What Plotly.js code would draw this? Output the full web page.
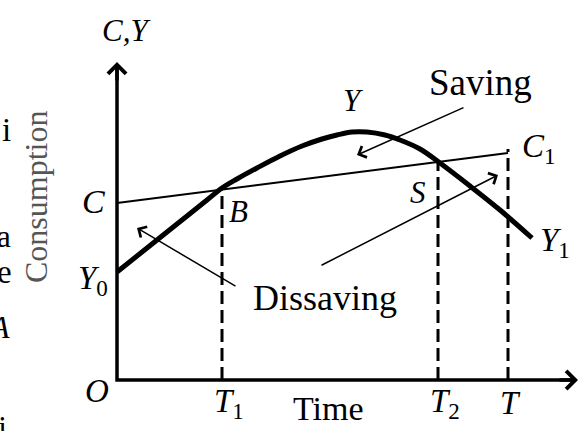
<!DOCTYPE html>
<html>
<head>
<meta charset="utf-8">
<script src="https://cdn.plot.ly/plotly-3.0.1.min.js"></script>
<style>html,body{margin:0;padding:0;background:#fff;}#chart{width:584px;height:431px;}</style>
</head>
<body>
<div id="chart"></div>
<script>
// Income curve Y over the life cycle
const timeY   = [0, 3.0, 6.0, 9.0, 10.5, 12.0, 14.0, 16.3, 18.5, 20.5, 22.0, 23.5, 25.0, 26.8, 28.3, 30.3, 32.3, 35.3, 38.3, 41.5];
const incomeY = [10.8, 13.2, 15.6, 18.0, 19.2, 20.1, 21.2, 22.4, 23.4, 24.1, 24.5, 24.8, 24.8, 24.5, 24.0, 23.1, 21.7, 19.4, 17.0, 14.2];
// Consumption line C -> C1
const timeC = [0, 39.1];
const consC = [17.7, 22.7];
// Periods T1, T2, T and heights of their dashed guides
const periodT   = [10.5, 32.1, 39.1];
const periodTop = [19.1, 21.8, 23.1];
const periodLabels = ['<i>T</i><sub>1</sub>', '<i>T</i><sub>2</sub>', '<i>T</i>'];
// Axes extents
const axisTipX = 46.1, axisTipY = 31.8;

const serif = 'Liberation Serif';
const traces = [];

// axes
traces.push({x: [0, 0, axisTipX - 0.5], y: [axisTipY - 0.5, 0, 0], mode: 'lines',
  line: {color: '#000', width: 3.5}, hoverinfo: 'skip'});
// dashed guides
periodT.forEach((t, i) => {
  traces.push({x: [t, t], y: [0, periodTop[i]], mode: 'lines',
    line: {color: '#000', width: 3, dash: '13px,6px'}, hoverinfo: 'skip'});
});
// consumption
traces.push({x: timeC, y: consC, mode: 'lines', line: {color: '#000', width: 2}, hoverinfo: 'skip'});
// income
traces.push({x: timeY, y: incomeY, mode: 'lines', line: {color: '#000', width: 5, shape: 'spline', smoothing: 1}, hoverinfo: 'skip'});

function arrow(x0, y0, x1, y1, w, head, size) {
  return {x: x1, y: y1, ax: x0, ay: y0, xref: 'x', yref: 'y', axref: 'x', ayref: 'y',
    text: '', showarrow: true, arrowhead: head, arrowsize: size, arrowwidth: w,
    arrowcolor: '#000', standoff: 0, startstandoff: 0};
}
function label(text, x, y, size, xanchor, extra) {
  return Object.assign({x: x, y: y, xref: 'x', yref: 'y', text: text, showarrow: false,
    xanchor: xanchor || 'center', yanchor: 'middle',
    font: {family: serif, size: size, color: '#000'}}, extra || {});
}

const ann = [
  arrow(0, axisTipY - 2, 0, axisTipY, 3.5, 4, 1),
  arrow(axisTipX - 2, 0, axisTipX, 0, 3.5, 4, 1),
  arrow(34.8, 27.3, 24.0, 22.5, 1.5, 4, 1.6),
  arrow(12.0, 9.3, 2.0, 15.2, 1.5, 4, 1.6),
  arrow(20.3, 11.4, 38.1, 20.5, 1.5, 4, 1.6),
  label('<i>C,Y</i>', 0.9, 35.0, 31),
  label('<i>C</i>', -2.4, 17.9, 34),
  label('<i>B</i>', 12.1, 16.9, 31),
  label('<i>Y</i><sub>0</sub>', -4.1, 10.0, 33, 'left'),
  label('Dissaving', 20.8, 8.2, 36),
  label('<i>O</i>', -2.0, -1.1, 33),
  label('Time', 21.1, -2.8, 34),
  label('Saving', 36.3, 29.8, 37),
  label('<i>Y</i>', 23.6, 28.0, 31),
  label('<i>S</i>', 30.1, 18.8, 31),
  label('<i>C</i><sub>1</sub>', 40.3, 23.2, 33, 'left'),
  label('<i>Y</i><sub>1</sub>', 42.1, 13.8, 33, 'left'),
  label('Consumption', -8.1, 18.3, 32, 'center', {textangle: -90, font: {family: serif, size: 32, color: '#555'}}),
  label('i', -11.7, 25.0, 33, 'left'),
  label('a', -10.4, 14.4, 31, 'right'),
  label('e', -10.3, 10.8, 33, 'right'),
  label('<i>A</i>', -10.5, 5.3, 32, 'right'),
  label('fi', -10.8, -4.7, 31, 'right')
];
periodT.forEach((t, i) => {
  ann.push(label(periodLabels[i], t - 1.0, -2.3, 33, 'left'));
});

const layout = {
  width: 584, height: 431,
  margin: {l: 0, r: 0, t: 0, b: 0, pad: 0},
  paper_bgcolor: '#fff', plot_bgcolor: '#fff',
  showlegend: false,
  xaxis: {range: [-11.7, 46.7], visible: false, fixedrange: true},
  yaxis: {range: [-5.1, 38.0], visible: false, fixedrange: true},
  annotations: ann
};
Plotly.newPlot('chart', traces, layout, {staticPlot: true, displayModeBar: false});
</script>
</body>
</html>
